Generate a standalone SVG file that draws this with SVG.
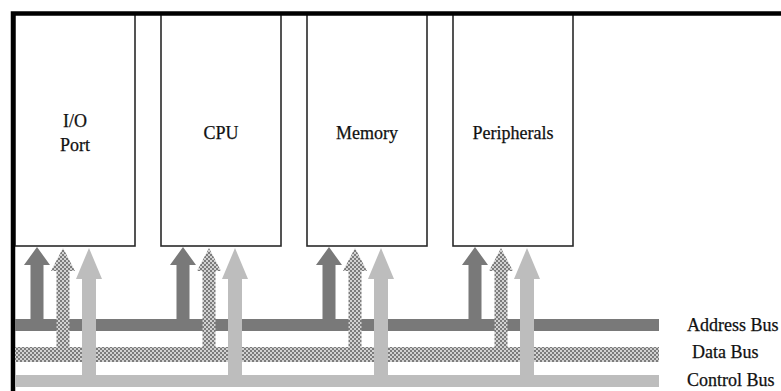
<svg xmlns="http://www.w3.org/2000/svg" width="781" height="391" viewBox="0 0 781 391">
  <defs>
    <pattern id="checker" width="4" height="4" patternUnits="userSpaceOnUse">
      <rect width="4" height="4" fill="#d2d2d2"/>
      <rect x="0" y="0" width="2" height="2" fill="#7c7c7c"/>
      <rect x="2" y="2" width="2" height="2" fill="#7c7c7c"/>
    </pattern>
  </defs>
  <style>
    .box { fill: #ffffff; stroke: #2a2a2a; stroke-width: 1.6; }
    .label { font-family: "Liberation Serif", "Times New Roman", serif; font-size: 18px; fill: #111111; stroke: #111111; stroke-width: 0.25; }
    .mid { text-anchor: middle; }
    .addr { fill: #797979; }
    .data { fill: url(#checker); }
    .ctrl { fill: #bdbdbd; }
    .frame { stroke: #000000; stroke-width: 4.5; fill: none; }
  </style>
  <rect width="781" height="391" fill="#ffffff"/>

  <g id="node-io">
    <rect class="box" x="15" y="13" width="120" height="233"/>
    <text class="label mid" x="75" y="127">I/O</text>
    <text class="label mid" x="75" y="151">Port</text>
  </g>
  <g id="node-cpu">
    <rect class="box" x="161" y="13" width="120" height="233"/>
    <text class="label mid" x="221" y="139">CPU</text>
  </g>
  <g id="node-memory">
    <rect class="box" x="307" y="13" width="120" height="233"/>
    <text class="label mid" x="367" y="139">Memory</text>
  </g>
  <g id="node-peripherals">
    <rect class="box" x="453" y="13" width="120" height="233"/>
    <text class="label mid" x="513" y="139">Peripherals</text>
  </g>

  <g id="frame">
    <path class="frame" d="M13,391 L13,13.5 L781,13.5"/>
  </g>

  <g id="buses">
    <g id="address-bus">
      <rect class="addr" x="15" y="319" width="644" height="12"/>
      <text class="label" x="687" y="331">Address Bus</text>
    </g>
    <g id="data-bus">
      <rect class="data" x="15" y="347" width="644" height="15"/>
      <text class="label" x="692" y="358">Data Bus</text>
    </g>
    <g id="control-bus">
      <rect class="ctrl" x="15" y="375" width="644" height="12"/>
      <text class="label" x="687" y="386">Control Bus</text>
    </g>
  </g>

  <g id="connectors">
    <!-- I/O (L=15) -->
    <path class="addr" d="M37,247 L50,265 L43.5,265 L43.5,320 L30.5,320 L30.5,265 L24,265 Z"/>
    <path class="data" d="M63,248 L75,271 L69.5,271 L69.5,348 L56.5,348 L56.5,271 L51,271 Z"/>
    <path class="ctrl" d="M89,248 L102,279 L96,279 L96,376 L82,376 L82,279 L76,279 Z"/>
    <!-- CPU (L=161) -->
    <path class="addr" d="M183,247 L196,265 L189.5,265 L189.5,320 L176.5,320 L176.5,265 L170,265 Z"/>
    <path class="data" d="M209,248 L221,271 L215.5,271 L215.5,348 L202.5,348 L202.5,271 L197,271 Z"/>
    <path class="ctrl" d="M235,248 L248,279 L242,279 L242,376 L228,376 L228,279 L222,279 Z"/>
    <!-- Memory (L=307) -->
    <path class="addr" d="M329,247 L342,265 L335.5,265 L335.5,320 L322.5,320 L322.5,265 L316,265 Z"/>
    <path class="data" d="M355,248 L367,271 L361.5,271 L361.5,348 L348.5,348 L348.5,271 L343,271 Z"/>
    <path class="ctrl" d="M381,248 L394,279 L388,279 L388,376 L374,376 L374,279 L368,279 Z"/>
    <!-- Peripherals (L=453) -->
    <path class="addr" d="M475,247 L488,265 L481.5,265 L481.5,320 L468.5,320 L468.5,265 L462,265 Z"/>
    <path class="data" d="M501,248 L513,271 L507.5,271 L507.5,348 L494.5,348 L494.5,271 L489,271 Z"/>
    <path class="ctrl" d="M527,248 L540,279 L534,279 L534,376 L520,376 L520,279 L514,279 Z"/>
  </g>
</svg>
